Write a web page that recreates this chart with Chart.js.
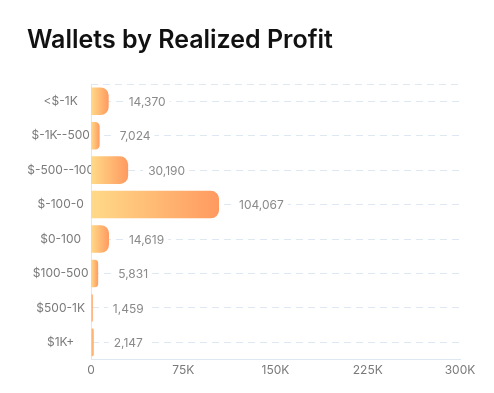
<!DOCTYPE html>
<html>
<head>
<meta charset="utf-8">
<script src="https://cdn.jsdelivr.net/npm/chart.js@4/dist/chart.umd.min.js"></script>
<style>
  html, body { margin: 0; padding: 0; background: #fff; }
  #wrap { width: 494px; height: 393px; }
</style>
</head>
<body>
<div id="wrap"><canvas id="profitChart"></canvas></div>
<script>
var categories = ['<$-1K', '$-1K--500', '$-500--100', '$-100-0', '$0-100', '$100-500', '$500-1K', '$1K+'];
var wallets = [14370, 7024, 30190, 104067, 14619, 5831, 1459, 2147];
var xTicks = [0, 75000, 150000, 225000, 300000];
var xTickLabels = ['0', '75K', '150K', '225K', '300K'];

document.addEventListener("DOMContentLoaded", function () {
    const canvas = document.getElementById('profitChart');
    const gridColor = '#dde8f3';
    const tickColor = '#7a7a7a';

    // dashed line along the top of the plot area
    const topLine = {
        id: 'topLine',
        beforeDatasetsDraw(chart) {
            const a = chart.chartArea;
            const ctx = chart.ctx;
            ctx.save();
            ctx.strokeStyle = gridColor;
            ctx.lineWidth = 1;
            ctx.setLineDash([7, 5]);
            ctx.beginPath();
            ctx.moveTo(a.left, a.top + 0.5);
            ctx.lineTo(a.right, a.top + 0.5);
            ctx.stroke();
            ctx.restore();
        }
    };

    // draws the numbers next to each bar, with a white box so the dashed line breaks
    const valueLabels = {
        id: 'valueLabels',
        afterDatasetsDraw(chart) {
            const ctx = chart.ctx;
            const meta = chart.getDatasetMeta(0);
            ctx.save();
            ctx.font = '12px Inter';
            ctx.textBaseline = 'middle';
            meta.data.forEach(function (bar, i) {
                const txt = wallets[i].toLocaleString('en-US');
                const w = ctx.measureText(txt).width;
                const x = bar.x + 20;
                ctx.fillStyle = '#fff';
                ctx.fillRect(x - 5, bar.y - 8, w + 9, 16);
                ctx.fillStyle = '#8a8a8a';
                ctx.fillText(txt, x, bar.y + 1);
            });
            ctx.restore();
        }
    };

    function barFill(context) {
        const chart = context.chart;
        const x = chart.scales.x;
        if (!chart.chartArea || !x) return '#ffb970';
        const x0 = x.getPixelForValue(0);
        const x1 = x.getPixelForValue(wallets[context.dataIndex]);
        if (!isFinite(x0) || !isFinite(x1) || x1 - x0 < 1) return '#ffb070';
        const g = chart.ctx.createLinearGradient(x0, 0, x1, 0);
        g.addColorStop(0, '#ffda88');
        g.addColorStop(1, '#ff9a60');
        return g;
    }

    new Chart(canvas, {
        type: 'bar',
        data: {
            labels: categories,
            datasets: [{
                data: wallets,
                backgroundColor: barFill,
                borderRadius: 8,
                borderSkipped: 'start',
                categoryPercentage: 1,
                barPercentage: 0.8
            }]
        },
        options: {
            indexAxis: 'y',
            responsive: true,
            maintainAspectRatio: false,
            animation: false,
            layout: { padding: { left: 27, right: 34, top: 0, bottom: 11 } },
            plugins: {
                legend: { display: false },
                tooltip: { enabled: false },
                title: {
                    display: true,
                    text: 'Wallets by Realized Profit',
                    align: 'start',
                    color: '#111',
                    font: { family: 'Inter', size: 25, weight: '600' },
                    padding: { top: 25, bottom: 29 }
                }
            },
            scales: {
                x: {
                    min: 0,
                    max: 300000,
                    afterBuildTicks: function (axis) {
                        axis.ticks = xTicks.map(function (v) { return { value: v }; });
                    },
                    grid: { display: false, drawTicks: false },
                    border: { display: true, color: gridColor, width: 1 },
                    ticks: {
                        color: tickColor,
                        font: { family: 'Inter', size: 12 },
                        padding: 4,
                        maxRotation: 0,
                        callback: function (v, i) { return xTickLabels[i]; }
                    }
                },
                y: {
                    grid: {
                        color: gridColor,
                        offset: false,
                        drawTicks: false
                    },
                    border: { display: true, color: gridColor, width: 1, dash: [7, 5] },
                    ticks: {
                        color: tickColor,
                        crossAlign: 'center',
                        font: { family: 'Inter', size: 12 },
                        padding: -3
                    },
                    afterFit: function (axis) {
                        axis.width = 64;
                        // let long labels run past the axis box, the bars cover them
                        axis._computeLabelArea = function () { return undefined; };
                    }
                }
            }
        },
        plugins: [topLine, valueLabels]
    });
});
</script>
</body>
</html>
